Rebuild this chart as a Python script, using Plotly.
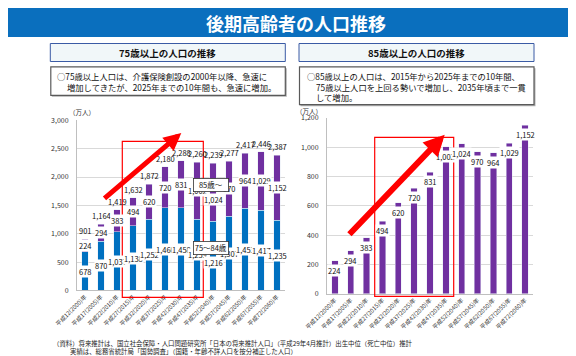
import plotly.graph_objects as go

# ---------------- data ----------------
years = ["平成12(2000)年", "平成17(2005)年", "平成22(2010)年", "平成27(2015)年",
         "平成32(2020)年", "平成37(2025)年", "平成42(2030)年", "平成47(2035)年",
         "平成52(2040)年", "平成57(2045)年", "平成62(2050)年", "平成67(2055)年",
         "平成72(2060)年"]
age75_84 = [678, 870, 1037, 1138, 1252, 1460, 1458, 1259, 1216, 1307, 1453, 1417, 1235]
age85_plus = [224, 294, 383, 494, 620, 720, 831, 1002, 1024, 970, 964, 1029, 1152]
total75_plus = [901, 1164, 1419, 1632, 1872, 2180, 2288, 2260, 2239, 2277, 2417, 2446, 2387]

title = "後期高齢者の人口推移"
left_header = "75歳以上の人口の推移"
right_header = "85歳以上の人口の推移"
left_desc = ["○75歳以上人口は、介護保険創設の2000年以降、急速に",
             "増加してきたが、2025年までの10年間も、急速に増加。"]
right_desc = ["○85歳以上の人口は、2015年から2025年までの10年間、",
              "75歳以上人口を上回る勢いで増加し、2035年頃まで一貫",
              "して増加。"]
footnotes = ["（資料）将来推計は、国立社会保障・人口問題研究所「日本の将来推計人口」（平成29年4月推計）出生中位（死亡中位）推計",
             "実績は、総務省統計局「国勢調査」（国籍・年齢不詳人口を按分補正した人口）"]
unit = "（万人）"

# ---------------- styling ----------------
W, H = 576, 356
FONT = "Noto Sans CJK JP"
BLUE = "#0070C0"
PURPLE = "#7030A0"
RED = "#FF0000"


def px(x):
    return x / W


def py(y):
    return 1 - y / H


def text_at(text, x, y, size, color="#111", xanchor="center", yanchor="middle"):
    return dict(text=text, xref="paper", yref="paper", x=px(x), y=py(y),
                xanchor=xanchor, yanchor=yanchor, showarrow=False,
                font=dict(size=size, color=color, family=FONT))


fig = go.Figure()
fig.add_trace(go.Bar(x=years, y=age75_84, marker_color=BLUE, width=0.4,
                     xaxis="x", yaxis="y", name="75～84歳"))
fig.add_trace(go.Bar(x=years, y=age85_plus, marker_color=PURPLE, width=0.4,
                     xaxis="x", yaxis="y", name="85歳～"))
fig.add_trace(go.Bar(x=years, y=age85_plus, marker_color=PURPLE, width=0.4,
                     xaxis="x2", yaxis="y2", name="85歳以上"))

ann = []
shapes = []

# Title bar
shapes.append(dict(type="rect", xref="paper", yref="paper", x0=0, x1=1, y0=py(29), y1=1,
                   fillcolor="#0A6FBE", line_width=0, layer="below"))
ann.append(text_at(f"<b>{title}</b>", 288, 14.5, 18, color="white"))

# Header boxes and description boxes
for (x0, x1), head, desc, (dy1, dx1, dx2) in [
        ((42.3, 277.3), left_header, left_desc, (87.3, 46.7, 56.7)),
        ((291, 526), right_header, right_desc, (96.7, 296.7, 305.7))]:
    shapes.append(dict(type="rect", xref="paper", yref="paper", x0=px(x0), x1=px(x1),
                       y0=py(53.5), y1=py(35.5), fillcolor="#F1F7F9",
                       line=dict(color="#3B5BA5", width=1)))
    ann.append(text_at(f"<b>{head}</b>", (x0 + x1) / 2, 44.5, 9.5))
    # soft shadow of the description box
    shapes.append(dict(type="rect", xref="paper", yref="paper", x0=px(x0 + 1.5), x1=px(x1 + 1.5),
                       y0=py(dy1 + 1.5), y1=py(60.3), fillcolor="#B0B0B0", line_width=0))
    shapes.append(dict(type="rect", xref="paper", yref="paper", x0=px(x0 + 0.5), x1=px(x1),
                       y0=py(dy1), y1=py(58.8), fillcolor="white",
                       line=dict(color="#5A5A5A", width=1.2)))
    for k, line in enumerate(desc):
        ann.append(text_at(line, dx1 if k == 0 else dx2, 68.3 + 10.4 * k, 8.3,
                           xanchor="left"))

# unit labels
ann.append(text_at(unit, 74, 104, 6.5, color="#333"))
ann.append(text_at(unit, 301, 102.5, 6.5, color="#333"))

# data labels
lab_font = dict(size=7.5, color="#111", family=FONT)
for i in range(len(years)):
    shift = -7 if i == 8 else 0
    b = age75_84[i]
    p = age85_plus[i]
    ann.append(dict(text=f"{b:,}", x=i, y=b / 2, xref="x", yref="y", showarrow=False,
                    bgcolor="white", borderpad=0, yshift=shift, font=lab_font))
    ann.append(dict(text=f"{p:,}", x=i, y=b + p / 2, xref="x", yref="y", showarrow=False,
                    bgcolor="white", borderpad=0, yshift=shift, font=lab_font))
    ann.append(dict(text=f"{total75_plus[i]:,}", x=i, y=total75_plus[i], xref="x", yref="y",
                    yanchor="bottom", yshift=1, showarrow=False, font=lab_font))
    # right chart
    ann.append(dict(text=f"{p:,}", x=i, y=p, xref="x2", yref="y2", yanchor="top", yshift=-3,
                    showarrow=False, bgcolor="white", borderpad=0, font=lab_font))

# legend boxes inside left chart
for txt, yv in [("85歳～", 1860), ("75～84歳", 748)]:
    ann.append(dict(text=txt, x=7.87, y=yv, xref="x", yref="y", showarrow=False,
                    bgcolor="white", bordercolor="#333", borderwidth=0.8, borderpad=0.5,
                    width=33, font=dict(size=7.5, color="#111", family=FONT)))

# red rectangles
shapes.append(dict(type="rect", xref="paper", yref="paper", x0=px(114.3), x1=px(195.3),
                   y0=py(289.3), y1=py(133.3), line=dict(color=RED, width=1.2)))
shapes.append(dict(type="rect", xref="paper", yref="paper", x0=px(366.7), x1=px(445.7),
                   y0=py(288.3), y1=py(129.3), line=dict(color=RED, width=1.2)))

# red arrows
ann.append(dict(text="", xref="paper", yref="paper", x=px(173.3), y=py(125),
                axref="pixel", ayref="pixel", ax=-78.3, ay=66.7, showarrow=True,
                arrowcolor=RED, arrowwidth=5, arrowhead=2, arrowsize=0.7))
ann.append(dict(text="", xref="paper", yref="paper", x=px(436.7), y=py(126.7),
                axref="pixel", ayref="pixel", ax=-96.7, ay=101, showarrow=True,
                arrowcolor=RED, arrowwidth=6, arrowhead=2, arrowsize=0.7))

# footnotes
ann.append(text_at(footnotes[0], 43, 335.5, 6.4, color="#222", xanchor="left"))
ann.append(text_at(footnotes[1], 60, 343, 6.4, color="#222", xanchor="left"))

xcommon = dict(type="category", tickangle=-45, tickfont=dict(size=5.8, color="#333", family=FONT),
               showline=True, linecolor="#BFBFBF", linewidth=1, ticks="", showgrid=False,
               range=[-0.5, 12.5], fixedrange=True, automargin=False)
ycommon = dict(tickformat=",", tickfont=dict(size=7, color="#333", family=FONT),
               showline=True, linecolor="#BFBFBF", linewidth=1, gridcolor="#D9D9D9",
               gridwidth=1, zeroline=False, ticks="", ticklabelstandoff=6, automargin=False)

fig.update_layout(
    width=W, height=H, margin=dict(l=0, r=0, t=0, b=0, pad=0, autoexpand=False),
    paper_bgcolor="white", plot_bgcolor="white",
    barmode="stack", bargap=0.6, showlegend=False,
    font=dict(family=FONT),
    xaxis=dict(domain=[px(69), px(277)], anchor="y", **xcommon),
    yaxis=dict(domain=[py(282.4), py(112.3)], anchor="x", range=[0, 3000], dtick=500, **ycommon),
    xaxis2=dict(domain=[px(319), px(525)], anchor="y2", **xcommon),
    yaxis2=dict(domain=[py(285.7), py(110)], anchor="x2", range=[0, 1200], dtick=200, **ycommon),
    annotations=ann, shapes=shapes,
)

fig.write_html("out.html")
